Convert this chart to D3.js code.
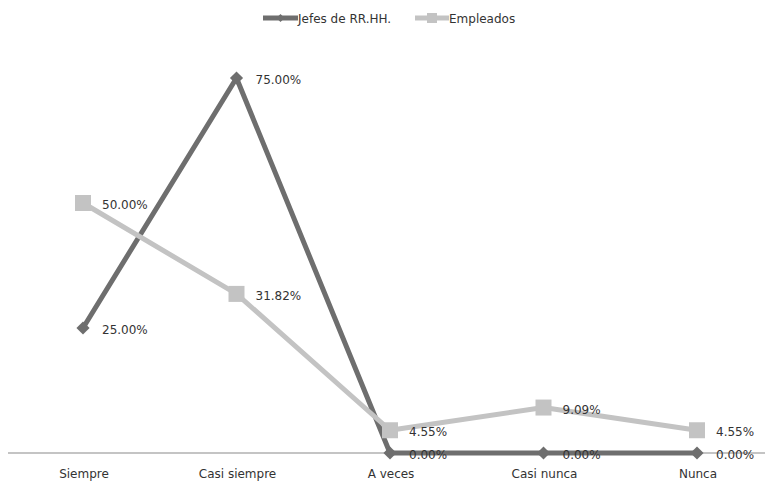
<!DOCTYPE html>
<html><head><meta charset="utf-8">
<script src="https://cdn.jsdelivr.net/npm/d3@7"></script>
<style>body{margin:0;background:#fff}svg{display:block}text{font-family:"DejaVu Sans",sans-serif;fill:#333}</style>
</head><body><svg width="765" height="482"></svg>
<script>
const categories = ["Siempre","Casi siempre","A veces","Casi nunca","Nunca"];
const jefes = [25.00, 75.00, 0.00, 0.00, 0.00];
const empleados = [50.00, 31.82, 4.55, 9.09, 4.55];
const seriesNames = ["Jefes de RR.HH.","Empleados"];
const colors = ["#6e6e6e","#c3c3c3"];

const svg = d3.select("svg");
const x = d3.scalePoint().domain(categories).range([83, 697]);
const y = d3.scaleLinear().domain([0, 75]).range([453, 78]);

// baseline axis
svg.append("line").attr("x1",8).attr("x2",765).attr("y1",y(0)).attr("y2",y(0))
  .attr("stroke","#b0b0b0").attr("stroke-width",1.5);
svg.selectAll(".cat").data(categories).enter().append("text")
  .attr("x",d=>x(d)+1).attr("y",478).attr("text-anchor","middle")
  .attr("font-size","12px").text(d=>d);

const series = [
  {name:seriesNames[0], values:jefes, color:colors[0], shape:"diamond"},
  {name:seriesNames[1], values:empleados, color:colors[1], shape:"square"}
];
const line = d3.line().x((d,i)=>x(categories[i])).y(d=>y(d));
function marker(g, shape, cx, cy, color){
  if(shape==="diamond"){
    g.append("path").attr("d",d3.symbol(d3.symbolDiamond2,110)()).attr("transform",`translate(${cx},${cy})`).attr("fill",color);
  } else {
    g.append("rect").attr("x",cx-8).attr("y",cy-8).attr("width",16).attr("height",16).attr("fill",color);
  }
}
series.forEach(s=>{
  const g = svg.append("g");
  g.append("path").datum(s.values).attr("d",line).attr("fill","none")
    .attr("stroke",s.color).attr("stroke-width",5).attr("stroke-linejoin","round");
  s.values.forEach((v,i)=>marker(g, s.shape, x(categories[i]), y(v), s.color));
});
series.forEach(s=>{
  s.values.forEach((v,i)=>{
    svg.append("text").attr("x",x(categories[i])+19).attr("y",y(v)+6)
      .attr("font-size","12px").text(v.toFixed(2)+"%");
  });
});

// legend
const leg = [{x0:263,x1:298,tx:298},{x0:415,x1:449,tx:449}];
series.forEach((s,i)=>{
  const L = leg[i];
  svg.append("line").attr("x1",L.x0).attr("x2",L.x1).attr("y1",18).attr("y2",18)
    .attr("stroke",s.color).attr("stroke-width",5);
  const g = svg.append("g");
  if(s.shape==="diamond") g.append("path").attr("d",d3.symbol(d3.symbolDiamond2,40)()).attr("transform",`translate(${(L.x0+L.x1)/2},18)`).attr("fill",s.color);
  else g.append("rect").attr("x",(L.x0+L.x1)/2-5).attr("y",13).attr("width",10).attr("height",10).attr("fill",s.color);
  svg.append("text").attr("x",L.tx).attr("y",23).attr("font-size","12px").text(s.name);
});
</script></body></html>
